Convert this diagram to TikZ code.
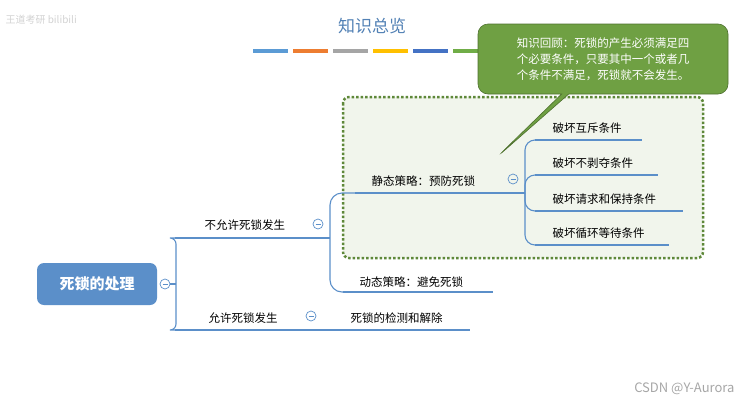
\documentclass[tikz,border=0pt]{standalone}
\usepackage{fontspec}
\setmainfont{Noto Sans CJK SC}
\usetikzlibrary{shapes.callouts}
\definecolor{lblue}{HTML}{5B8FC9}
\definecolor{cgreen}{HTML}{6FA043}
\definecolor{bar1}{HTML}{5B9BD5}
\definecolor{bar2}{HTML}{ED7D31}
\definecolor{bar3}{HTML}{A5A5A5}
\definecolor{bar4}{HTML}{FFC000}
\definecolor{bar5}{HTML}{4472C4}
\definecolor{bar6}{HTML}{70AD47}
\begin{document}
\begin{tikzpicture}[x=1pt,y=-1pt,
  lbl/.style={anchor=base west,font=\fontsize{11.5}{12}\selectfont},
  ul/.style={draw=lblue,line width=2.4pt},
  conn/.style={draw=lblue,line width=1.1pt,rounded corners=6pt},
  mn/.style={circle,draw=lblue,line width=0.7pt,inner sep=0pt,minimum size=10pt,
    path picture={\draw[lblue,line width=0.7pt] ([xshift=-2.5pt]path picture bounding box.center) -- ([xshift=2.5pt]path picture bounding box.center);}}]
\useasboundingbox (0,0) rectangle (750,408);
\node[anchor=west,text=gray!35,font=\fontsize{10}{10}\selectfont] (wm) at (2,20) {王道考研 bilibili};
\node[text=lblue!90!black,font=\fontsize{17}{18}\selectfont] (title) at (372,26) {知识总览};
\foreach \x/\c in {253/bar1,293/bar2,333/bar3,373/bar4,413/bar5,453/bar6}
  \fill[fill=\c] (\x,48.5) rectangle +(35,4);
% dashed box
\draw[draw=cgreen!85!black,line width=2.5pt,dash pattern=on 2.5pt off 2pt,fill=cgreen!10,rounded corners=6pt] (343,97) rectangle (703,258);
% callout
\node[rectangle callout,rounded corners=10pt,fill=cgreen,draw=cgreen!70!black,line width=0.6pt,minimum width=250pt,minimum height=70pt,callout absolute pointer={(497,157)},text=white,align=left,font=\fontsize{11.5}{16}\selectfont] (call) at (603,59) {知识回顾：死锁的产生必须满足四\\个必要条件，只要其中一个或者几\\个条件不满足，死锁就不会发生。};
% root
\node[fill=lblue,rounded corners=7pt,minimum width=120pt,minimum height=42pt,text=white,font=\bfseries\fontsize{15}{16}\selectfont] (root) at (97,284) {死锁的处理};
\node[mn] (m0) at (165,284) {};
% level 1
\coordinate (b1a) at (175,238); \coordinate (b1b) at (300,238);
\coordinate (b2a) at (175,330); \coordinate (b2b) at (300,330);
\draw[conn] (m0.east) -- (176,284);
\draw[conn] (b1a) -| (176,284) |- (b2a);
\draw[ul] (b1a) -- (b1b);
\draw[ul] (b2a) -- (b2b);
\node[lbl] (n1) at (201,229) {不允许死锁发生};
\node[lbl] (n2) at (205,322) {允许死锁发生};
\node[mn] (m1) at (318,224) {};
\node[mn] (m2) at (311,316) {};
% level 2
\coordinate (s1a) at (355,193); \coordinate (s1b) at (507,193);
\coordinate (s2a) at (343,292); \coordinate (s2b) at (493,292);
\coordinate (s3a) at (332,330); \coordinate (s3b) at (470,330);
\draw[conn,rounded corners=12pt] (s1a) -| (330,238) |- (s2a);
\draw[conn] (b1b) -- (330,238);
\draw[conn] (b2b) -- (s3a);
\draw[ul] (s1a) -- (s1b);
\draw[ul] (s2a) -- (s2b);
\draw[ul] (s3a) -- (s3b);
\node[lbl] (t1) at (368,185) {静态策略：预防死锁};
\node[lbl] (t2) at (356,286) {动态策略：避免死锁};
\node[lbl] (t3) at (347,322) {死锁的检测和解除};
\node[mn] (m3) at (513,179) {};
% level 3
\draw[conn] (s1b) -- (525,193);
\foreach \y/\w/\t [count=\i] in {140/642/破坏互斥条件,175/658/破坏不剥夺条件,211/683/破坏请求和保持条件,245/669/破坏循环等待条件}{
  \draw[conn,rounded corners=10pt] (525,193) |- (535,\y);
  \draw[ul] (535,\y) -- (\w,\y);
  \node[lbl] (leaf\i) at (549,\y-8) {\t};
}
\node[anchor=east,text=gray!70,font=\fontsize{13}{14}\selectfont] (csdn) at (738,389) {CSDN @Y-Aurora};
\end{tikzpicture}
\end{document}
